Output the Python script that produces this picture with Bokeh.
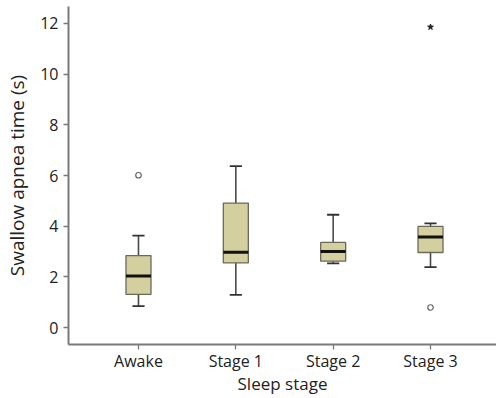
from bokeh.plotting import figure
from bokeh.models import Range1d, FixedTicker, ColumnDataSource
from bokeh.embed import file_html
from bokeh.resources import INLINE

categories = ["Awake", "Stage 1", "Stage 2", "Stage 3"]
q1 = [1.31, 2.55, 2.62, 2.96]
median = [2.03, 2.97, 3.00, 3.57]
q3 = [2.84, 4.91, 3.36, 3.99]
lower = [0.84, 1.29, 2.53, 2.38]
upper = [3.63, 6.37, 4.45, 4.11]
outlier_cat = ["Awake", "Stage 3"]
outlier_val = [6.01, 0.79]
extreme_cat = ["Stage 3"]
extreme_val = [11.86]
y_ticks = [0, 2, 4, 6, 8, 10, 12]

pos = {c: i + 1 for i, c in enumerate(categories)}
xs = [pos[c] for c in categories]

FONT = "Open Sans"
p = figure(width=496, height=398, output_backend="svg", toolbar_location=None,
           x_range=Range1d(0.281, 4.678), y_range=Range1d(-0.671, 12.671),
           min_border_left=68, min_border_right=0, min_border_top=6, min_border_bottom=54)
p.outline_line_color = None
p.grid.visible = False
p.background_fill_color = "white"

bw = 0.257
cw = 0.125
src = ColumnDataSource(dict(x=xs, q1=q1, q3=q3, med=median, lo=lower, hi=upper,
                            bl=[x - bw / 2 for x in xs], br=[x + bw / 2 for x in xs],
                            cl=[x - cw / 2 for x in xs], cr=[x + cw / 2 for x in xs]))
# whiskers
p.segment(x0="x", y0="q3", x1="x", y1="hi", source=src, line_color="#4a4a4a", line_width=1.6)
p.segment(x0="x", y0="lo", x1="x", y1="q1", source=src, line_color="#4a4a4a", line_width=1.6)
p.segment(x0="cl", y0="hi", x1="cr", y1="hi", source=src, line_color="#333333", line_width=1.8)
p.segment(x0="cl", y0="lo", x1="cr", y1="lo", source=src, line_color="#333333", line_width=1.8)
# boxes
p.vbar(x="x", width=bw, bottom="q1", top="q3", source=src, fill_color="#d4cf9f",
       line_color="#6a6a5a", line_width=1.3)
p.segment(x0="bl", y0="med", x1="br", y1="med", source=src, line_color="#111111", line_width=3)
# outliers
p.scatter([pos[c] for c in outlier_cat], outlier_val, marker="circle", size=5.5,
          fill_color="white", line_color="#666666", line_width=1.2)
p.scatter([pos[c] for c in extreme_cat], extreme_val, marker="star", size=6,
          fill_color="#222222", line_color="#222222")

for ax in (p.xaxis[0], p.yaxis[0]):
    ax.axis_line_color = "#7a7a7a"
    ax.axis_line_width = 2
    ax.major_tick_line_color = "#7a7a7a"
    ax.major_tick_line_width = 1.3
    ax.major_tick_in = 0
    ax.major_tick_out = 5
    ax.minor_tick_line_color = None
    ax.major_label_text_font = FONT
    ax.major_label_text_font_size = "16px"
    ax.major_label_text_color = "#222222"
    ax.axis_label_text_font = FONT
    ax.axis_label_text_font_style = "normal"
    ax.axis_label_text_color = "#222222"

p.xaxis.ticker = FixedTicker(ticks=xs)
p.xaxis.major_label_overrides = {pos[c]: c for c in categories}
p.xaxis.axis_label = "Sleep stage"
p.xaxis.axis_label_text_font_size = "17px"
p.xaxis.major_label_standoff = 0
p.xaxis.axis_label_standoff = -3

p.yaxis.ticker = FixedTicker(ticks=y_ticks)
p.yaxis.axis_label = "Swallow apnea time (s)"
p.yaxis.axis_label_text_font_size = "19px"
p.yaxis.major_label_standoff = 5
p.yaxis.axis_label_standoff = 7

open("out.html", "w").write(file_html(p, INLINE))
